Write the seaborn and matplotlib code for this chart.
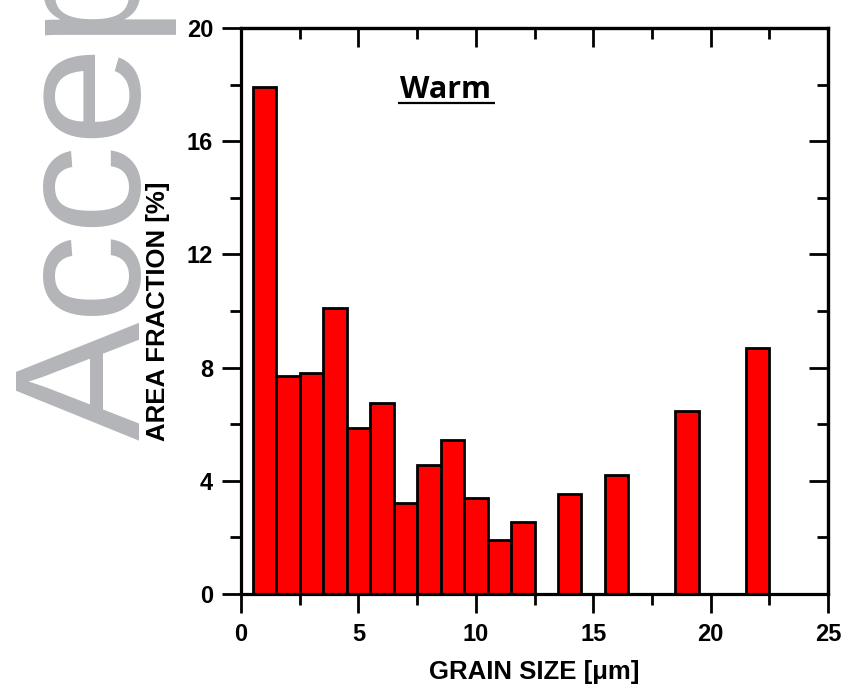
import numpy as np
import pandas as pd
import matplotlib
matplotlib.use("Agg")
import matplotlib.pyplot as plt
from matplotlib.ticker import MultipleLocator
import seaborn as sns

# grain size histogram, "Warm" sample
grain_size = [1, 2, 3, 4, 5, 6, 7, 8, 9, 10, 11, 12, 14, 16, 19, 22]
area_fraction = [17.9, 7.7, 7.8, 10.1, 5.85, 6.75, 3.2, 4.55, 5.45, 3.4,
                 1.9, 2.55, 3.55, 4.2, 6.45, 8.7]

x_ticks = [0, 5, 10, 15, 20, 25]
y_ticks = [0, 4, 8, 12, 16, 20]

sns.set_theme(style="ticks")
plt.rcParams["font.family"] = ["Liberation Sans", "DejaVu Sans"]
plt.rcParams["text.color"] = "black"
plt.rcParams["axes.labelcolor"] = "black"
plt.rcParams["xtick.color"] = "black"
plt.rcParams["ytick.color"] = "black"

df = pd.DataFrame({"size": grain_size, "frac": area_fraction})

fig = plt.figure(figsize=(8.44, 6.86), dpi=100)
ax = fig.add_axes([241 / 844, 1 - 594 / 686, 587 / 844, 566 / 686])

sns.barplot(data=df, x="size", y="frac", native_scale=True, width=1,
            color="#ff0000", saturation=1, edgecolor="black", linewidth=2,
            ax=ax)

ax.set_xlim(0, 25)
ax.set_ylim(0, 20)
ax.set_xticks(x_ticks)
ax.set_yticks(y_ticks)
ax.xaxis.set_minor_locator(MultipleLocator(2.5))
ax.yaxis.set_minor_locator(MultipleLocator(2))
ax.set_xticklabels([str(t) for t in x_ticks], fontsize=17, fontweight="bold")
ax.set_yticklabels([str(t) for t in y_ticks], fontsize=17, fontweight="bold")

for s in ax.spines.values():
    s.set_visible(True)
    s.set_linewidth(2.3)
    s.set_color("black")

ax.tick_params(which="major", direction="out", length=14, width=2, pad=6)
ax.tick_params(which="minor", direction="out", length=8, width=2)
ax.tick_params(axis="x", which="major", pad=7)

# inward ticks on the top and right sides
top = ax.secondary_xaxis("top")
top.set_xticks(x_ticks)
top.xaxis.set_minor_locator(MultipleLocator(2.5))
top.tick_params(which="major", direction="in", length=14, width=2, labeltop=False)
top.tick_params(which="minor", direction="in", length=8, width=2)
top.spines["top"].set_linewidth(2.3)
right = ax.secondary_yaxis("right")
right.set_yticks(y_ticks)
right.yaxis.set_minor_locator(MultipleLocator(2))
right.tick_params(which="major", direction="in", length=14, width=2, labelright=False)
right.tick_params(which="minor", direction="in", length=8, width=2)
right.spines["right"].set_linewidth(2.3)

ax.set_xlabel("GRAIN SIZE [μm]", fontsize=18.5, fontweight="bold", labelpad=10)
ax.set_ylabel("AREA FRACTION [%]", fontsize=18.5, fontweight="bold", labelpad=12)

ax.text(0.349, 0.876, "Warm", transform=ax.transAxes, ha="center", va="baseline",
        fontsize=22, fontweight="bold", family=["Open Sans", "DejaVu Sans"])
ax.plot([0.267, 0.433], [0.868, 0.868], transform=ax.transAxes, color="black",
        lw=1.6, solid_capstyle="butt", clip_on=False)

# journal watermark
fig.text(140 / 844, 1 - 440 / 686, "Accepted", rotation=90, rotation_mode="anchor",
         ha="left", va="baseline", fontsize=128, color="#b3b5b8",
         family=["Liberation Sans", "DejaVu Sans"], zorder=-1)

fig.savefig("out.png", dpi=100)
